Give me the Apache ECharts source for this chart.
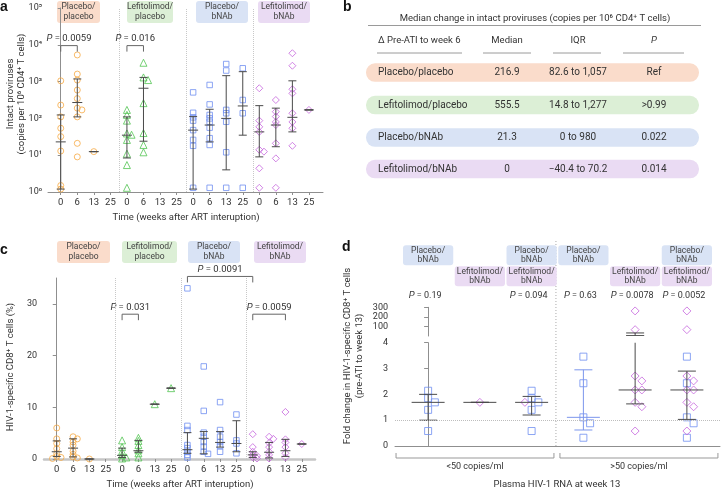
<!DOCTYPE html>
<html>
<head>
<meta charset="utf-8">
<title>Intact proviruses and HIV-1-specific CD8+ T cells</title>
<script src="https://cdn.jsdelivr.net/npm/echarts@6.0.0/dist/echarts.min.js"></script>
<style>
  html, body { margin: 0; padding: 0; background: #fff; }
  #chart { width: 722px; height: 490px; }
</style>
</head>
<body>
<div id="chart"></div>
<script>
'use strict';
// ---- data ----
const weekLabels = ['0', '6', '13', '25'];
const groupNames = ['Placebo/\nplacebo', 'Lefitolimod/\nplacebo', 'Placebo/\nbNAb', 'Lefitolimod/\nbNAb'];

// a: intact proviruses (copies per 10^6 CD4+ T cells), one list per week (0, 6, 13, 25)
const provPlaceboPlacebo = [[1050, 230, 110, 54, 32, 13, 1.5, 1.2], [5300, 1600, 1100, 590, 345, 190, 170, 110, 21, 9], [12.5], []];
const provLefiPlacebo = [[170, 125, 87, 39, 36, 26, 11, 5.4, 1.3], [3250, 1300, 1100, 260, 40, 19, 12], [], []];
const provPlaceboBnab = [[510, 142, 107, 87, 48, 26, 18, 1.3], [810, 240, 124, 100, 81, 56, 29, 19, 1.3], [3000, 2000, 170, 138, 81, 12, 1.3], [2300, 316, 138, 1.3]];
const provLefiBnab = [[660, 87, 59, 43, 14, 12.5, 4.4, 1.3], [316, 152, 112, 80, 66, 21, 8.2, 1.3], [5900, 2700, 620, 480, 138, 80, 54, 18], [170]];
// [q1, median, q3] per week
const provStatsPlaceboPlacebo = [[1.2, 23, 124], [110, 270, 1180], [12.5, 12.5, 12.5], null];
const provStatsLefiPlacebo = [[8.4, 35, 110], [24, 660, 1300], null, null];
const provStatsPlaceboBnab = [[1.2, 48, 112], [23, 66, 177], [4, 100, 1450], [35, 218, 1860]];
const provStatsLefiBnab = [[9, 43, 222], [17, 66, 190], [43, 107, 1050], [170, 170, 170]];
// [from, to, bracket level, P]
const provTests = [[0, 1, 9500, '0.0059'], [4, 5, 9500, '0.016']];

// b: table
const tableHead = ['Δ Pre-ATI to week 6', 'Median', 'IQR', 'P'];
const tableRows = ['Placebo/placebo', 'Lefitolimod/placebo', 'Placebo/bNAb', 'Lefitolimod/bNAb'];
const tableMedian = ['216.9', '555.5', '21.3', '0'];
const tableIQR = ['82.6 to 1,057', '14.8 to 1,277', '0 to 980', '\u221240.4 to 70.2'];
const tableP = ['Ref', '>0.99', '0.022', '0.014'];

// c: HIV-1-specific CD8+ T cells (%)
const cd8PlaceboPlacebo = [[6.0, 3.9, 3.0, 2.0, 1.0, 0.5, 0.3, 0.1], [4.3, 3.9, 3.3, 2.7, 1.5, 0.9, 0.4, 0.2], [0.0], []];
const cd8LefiPlacebo = [[3.6, 2.3, 1.5, 0.75, 0.3, 0.1], [4.1, 3.5, 2.7, 1.7, 1.1, 0.3], [10.6], [13.7]];
const cd8PlaceboBnab = [[33.0, 6.4, 5.6, 2.7, 2.1, 1.4, 0.8, 0.3], [17.9, 9.3, 5.1, 4.3, 3.3, 2.4, 1.4, 1.0], [11.0, 5.6, 4.3, 3.3, 2.5, 1.4], [8.6, 3.6, 3.0, 1.1]];
const cd8LefiBnab = [[4.8, 2.3, 1.4, 0.8, 0.6, 0.3, 0.1], [4.3, 3.9, 3.1, 2.3, 1.4, 0.8, 0.1], [9.1, 3.8, 3.2, 2.3, 1.1, 0.3], [2.9]];
const cd8StatsPlaceboPlacebo = [[0.5, 1.4, 3.5], [0.4, 2.1, 3.9], [0, 0, 0], null];
const cd8StatsLefiPlacebo = [[0.3, 0.7, 2.1], [1.3, 1.6, 3.6], [10.6, 10.6, 10.6], [13.7, 13.7, 13.7]];
const cd8StatsPlaceboBnab = [[1.1, 1.8, 5.1], [1.0, 4.0, 5.3], [2.3, 3.2, 5.3], [1.4, 3.0, 7.4]];
const cd8StatsLefiBnab = [[0.3, 0.8, 1.4], [0.2, 1.3, 3.2], [0.5, 1.6, 3.8], [2.9, 2.9, 2.9]];
const cd8Ticks = [0, 10, 20, 30];
const cd8Tests = [[4, 5, 28, '0.031'], [8, 12, 35.3, '0.0091'], [12, 14, 28, '0.0059']];

// d: fold change pre-ATI to week 13, six columns (<50 copies/ml: 0-2, >50 copies/ml: 3-5)
const rnaGroups = ['<50 copies/ml', '>50 copies/ml'];
const foldSquares = [[2.14, 1.85, 1.69, 1.40, 0.58], [], [2.14, 1.85, 1.69, 1.40, 0.58], [3.46, 2.43, 1.11, 0.88, 0.32], [], [3.46, 2.43, 1.11, 0.88, 0.32]];
const foldDiamonds = [[], [1.69], [1.69], [], [262, 66, 2.71, 2.52, 2.17, 2.17, 1.69, 1.52, 0.58], [262, 66, 2.71, 2.52, 2.17, 2.17, 1.69, 1.52, 0.58]];
const foldStats = [[1.0, 1.69, 2.0], [1.69, 1.69, 1.69], [1.2, 1.69, 1.92], [0.62, 1.11, 2.95], [1.63, 2.17, 32], [1.03, 2.17, 2.9]];
const foldP = ['0.19', '', '0.094', '0.63', '0.0078', '0.0052'];

// ---- styles ----
const FONT = 'Roboto, "Noto Sans", sans-serif';
const TXT = '#333';
const AX = '#8f8f8f';
const BAR = '#4a4a4a';
const COLORS = ['#f6aa45', '#52c452', '#6f8ff0', '#c565dd'];
const BOXES = ['#fadccb', '#dcefd6', '#d9e3f5', '#eadbf3'];
const SYMBOLS = ['circle', 'triangle', 'rect', 'diamond'];
const SIZES = [6, 7, 5.5, 7];
const dBarColors = [BAR, BAR, BAR, '#7c96ec', BAR, BAR];
const sup = ['\u2070', '\u00b9', '\u00b2', '\u00b3', '\u2074', '\u2075'];

const openItem = i => ({color: 'rgba(255,255,255,0)', borderColor: COLORS[i], borderWidth: 1});
const txtStyle = (extra) => Object.assign({
    fill: TXT, fontSize: 9.5, fontFamily: FONT,
    align: 'center', verticalAlign: 'middle', textAlign: 'center', textVerticalAlign: 'middle'
}, extra);
const pRich = {i: {fontStyle: 'italic', fontSize: 9.5, fontFamily: FONT, fill: TXT}};

//简单蜂群排布，避免点重叠
function swarm(values, center, toPx, gap, step) {
    const placed = [];
    return values.map(v => {
        const y = toPx(v);
        let dx = 0;
        for (let i = 0; i < 9; i++) {
            dx = (i % 2 ? 1 : -1) * Math.ceil(i / 2) * step;
            if (!placed.some(p => Math.abs(p.y - y) < gap && Math.abs(p.dx - dx) < step * 0.9)) break;
        }
        placed.push({y, dx});
        return [center + dx, v];
    });
}

// median + IQR bars
function errorBars(capW, medW, colorOf) {
    return function (params, api) {
        const x = api.value(0);
        const lo = api.coord([x, api.value(1)]);
        const md = api.coord([x, api.value(2)]);
        const hi = api.coord([x, api.value(3)]);
        const st = {stroke: colorOf(params.dataIndex), lineWidth: 1};
        const h = (p, w) => ({type: 'line', shape: {x1: p[0] - w / 2, y1: p[1], x2: p[0] + w / 2, y2: p[1]}, style: st});
        return {type: 'group', children: [
            {type: 'line', shape: {x1: lo[0], y1: lo[1], x2: hi[0], y2: hi[1]}, style: st},
            h(lo, capW), h(hi, capW), h(md, medW)
        ]};
    };
}

function bracketItem(tests) {
    return function (params, api) {
        const t = tests[params.dataIndex];
        const a = api.coord([t[0], t[2]]);
        const b = api.coord([t[1], t[2]]);
        return {type: 'group', children: [
            {type: 'polyline', shape: {points: [[a[0], a[1] + 6], a, b, [b[0], b[1] + 6]]},
                style: {stroke: '#666', lineWidth: 1, fill: null}},
            {type: 'text', style: txtStyle({text: '{i|P} = ' + t[3], rich: pRich, x: (a[0] + b[0]) / 2, y: a[1] - 2,
                verticalAlign: 'bottom', textVerticalAlign: 'bottom'})}
        ]};
    };
}

function timePanel(gi, groups, stats, tests, toPx, gap, step, seps) {
    const out = [];
    groups.forEach((weeks, g) => {
        const pts = [];
        weeks.forEach((vals, w) => pts.push(...swarm(vals, g * 4 + w, toPx, gap, step)));
        out.push({type: 'scatter', xAxisIndex: gi, yAxisIndex: gi, symbol: SYMBOLS[g], symbolSize: SIZES[g],
            itemStyle: openItem(g), data: pts, z: 2, silent: true});
    });
    const bars = [];
    stats.forEach((weeks, g) => weeks.forEach((s, w) => { if (s) bars.push([g * 4 + w, s[0], s[1], s[2]]); }));
    out.push({type: 'custom', xAxisIndex: gi, yAxisIndex: gi, renderItem: errorBars(8, 10, () => BAR), data: bars, z: 3, silent: true});
    out.push({type: 'custom', xAxisIndex: gi, yAxisIndex: gi, renderItem: bracketItem(tests),
        data: tests.map(t => [t[0], t[2]]), z: 3, silent: true});
    out[0].markLine = {
        silent: true, symbol: 'none', label: {show: false},
        lineStyle: {type: 'dotted', color: '#c8c8c8', width: 1},
        data: seps.map(x => ({xAxis: x}))
    };
    return out;
}

const idx16 = weekLabels.concat(weekLabels, weekLabels, weekLabels).map((_, i) => i);
const timeAxisX = (gi, min, max, line) => ({
    gridIndex: gi, type: 'value', min, max,
    axisLine: {show: true, lineStyle: line}, splitLine: {show: false},
    axisTick: {show: true, length: 3, customValues: idx16, lineStyle: {color: AX}},
    axisLabel: {customValues: idx16, formatter: v => weekLabels[Math.round(v) % 4], color: TXT, fontSize: 9.5, fontFamily: FONT, margin: 6}
});

// ---- series ----
const series = [];
series.push(...timePanel(0,
    [provPlaceboPlacebo, provLefiPlacebo, provPlaceboBnab, provLefiBnab],
    [provStatsPlaceboPlacebo, provStatsLefiPlacebo, provStatsPlaceboBnab, provStatsLefiBnab],
    provTests, v => Math.log10(v) * 36.8, 3, 0.28, [3.55, 7.6, 11.65]));
series.push(...timePanel(1,
    [cd8PlaceboPlacebo, cd8LefiPlacebo, cd8PlaceboBnab, cd8LefiBnab],
    [cd8StatsPlaceboPlacebo, cd8StatsLefiPlacebo, cd8StatsPlaceboBnab, cd8StatsLefiBnab],
    cd8Tests, v => v * 5.17, 2.5, 0.26, [3.6, 7.65, 11.63]));

// panel d: points split into lower (0-4) and upper (broken) part of the axis
const FOLD_BREAK = 4;
const dLowSq = [], dLowDi = [], dHighDi = [];
foldSquares.forEach((sq, k) => {
    const vals = sq.concat(foldDiamonds[k]);
    const pos = swarm(vals, k, v => v <= FOLD_BREAK ? v * 25.8 : 200 + v * 0.1, 6, 0.13);
    pos.forEach((p, i) => {
        if (i < sq.length) dLowSq.push(p);
        else if (p[1] <= FOLD_BREAK) dLowDi.push(p);
        else dHighDi.push(p);
    });
});
const foldBars = foldStats.map((s, k) => [k, s[0], s[1], s[2]]);
series.push(
    {type: 'scatter', xAxisIndex: 2, yAxisIndex: 2, symbol: 'rect', symbolSize: 7, itemStyle: openItem(2), data: dLowSq, z: 2, silent: true,
        markLine: {silent: true, symbol: 'none', label: {show: false}, lineStyle: {type: 'dotted', color: '#bdbdbd', width: 1}, data: [{yAxis: 1}]}},
    {type: 'scatter', xAxisIndex: 2, yAxisIndex: 2, symbol: 'diamond', symbolSize: 8, itemStyle: openItem(3), data: dLowDi, z: 2, silent: true},
    {type: 'scatter', xAxisIndex: 3, yAxisIndex: 3, symbol: 'diamond', symbolSize: 8, itemStyle: openItem(3), data: dHighDi, z: 2, silent: true},
    {type: 'custom', xAxisIndex: 2, yAxisIndex: 2, clip: true, renderItem: errorBars(18, 33, i => dBarColors[i]), data: foldBars, z: 3, silent: true},
    {type: 'custom', xAxisIndex: 3, yAxisIndex: 3, clip: true, renderItem: errorBars(18, 18, i => dBarColors[i]),
        data: foldBars.filter(b => b[3] > FOLD_BREAK), z: 3, silent: true},
    // group boxes and P values above the columns
    {type: 'custom', xAxisIndex: 3, yAxisIndex: 3, silent: true, z: 4,
        data: foldP.map((_, k) => [k, 300]),
        renderItem: (params, api) => {
            const k = api.value(0);
            const top = api.coord([k, 300]);
            const w = api.size([1, 0])[0] - 1.5;
            const kids = [];
            const boxAt = (y, h, fill, text) => {
                kids.push({type: 'rect', shape: {x: top[0] - w / 2, y, width: w, height: h, r: 3}, style: {fill}});
                kids.push({type: 'text', style: txtStyle({text, x: top[0], y: y + h / 2, fontSize: 8.5, lineHeight: 9.5, fill: '#444'})});
            };
            if (foldSquares[k].length) boxAt(top[1] - 62, 20, BOXES[2], groupNames[2]);
            if (foldDiamonds[k].length) boxAt(top[1] - 41, 20, BOXES[3], groupNames[3]);
            if (foldP[k]) kids.push({type: 'text', style: txtStyle({text: '{i|P} = ' + foldP[k], rich: pRich, x: top[0] - 3, y: top[1] - 12, fontSize: 9})});
            return {type: 'group', children: kids};
        }},
    // separator and RNA group brackets under the axis
    {type: 'custom', xAxisIndex: 2, yAxisIndex: 2, silent: true, z: 1,
        data: [[2.47, 0]],
        renderItem: (params, api) => {
            const sep = api.value(0);
            const base = api.coord([sep, 0]);
            const left = api.coord([-0.62, 0])[0], right = api.coord([5.6, 0])[0];
            const kids = [{type: 'line', shape: {x1: base[0], y1: base[1], x2: base[0], y2: 241},
                style: {stroke: '#aaa', lineWidth: 1, lineDash: [1, 2]}}];
            const y = base[1] + 12;
            [[left, base[0] - 2], [base[0] + 4, right]].forEach((r, i) => {
                kids.push({type: 'polyline', shape: {points: [[r[0], y - 5], [r[0], y], [r[1], y], [r[1], y - 5]]},
                    style: {stroke: '#999', lineWidth: 1, fill: null}});
                kids.push({type: 'text', style: txtStyle({text: rnaGroups[i], x: (r[0] + r[1]) / 2, y: y + 9, fontSize: 9})});
            });
            return {type: 'group', children: kids};
        }}
);

// ---- static layout: labels, boxes, table ----
const graphics = [];
const gText = (x, y, text, extra) => graphics.push({type: 'text', x, y, silent: true, style: txtStyle(Object.assign({text}, extra))});
const gRect = (x, y, w, h, fill, r) => graphics.push({type: 'rect', silent: true, shape: {x, y, width: w, height: h, r}, style: {fill}});
const gLine = (x1, x2, y, stroke) => graphics.push({type: 'line', silent: true, shape: {x1, y1: y, x2, y2: y}, style: {stroke, lineWidth: 1}});

[['a', 0, 7], ['b', 343, 7], ['c', 0, 250], ['d', 342, 247]].forEach(l =>
    gText(l[1], l[2], l[0], {fontSize: 14, fontWeight: 'bold', fill: '#111', fontFamily: 'Liberation Sans, Arial, sans-serif', align: 'left', textAlign: 'left'}));

const boxesA = [[57, 43], [127, 46], [196, 52], [258, 52]];
const boxesC = [[57, 53], [122, 55], [188, 52], [254, 52]];
[[boxesA, 1], [boxesC, 241]].forEach(([list, top]) => list.forEach((b, g) => {
    gRect(b[0], top, b[1], 22, BOXES[g], 3);
    gText(b[0] + b[1] / 2, top + 11, groupNames[g], {fontSize: 8.5, lineHeight: 10, fill: '#444'});
}));

// axis titles
gText(16.5, 94, 'Intact proviruses\n(copies per 10\u2076 CD4\u207a T cells)', {fontSize: 9.5, lineHeight: 11, rotation: Math.PI / 2});
graphics[graphics.length - 1].rotation = Math.PI / 2;
gText(186, 218, 'Time (weeks after ART interuption)', {fontSize: 9.5});
gText(11, 367, 'HIV-1-specific CD8\u207a T cells (%)', {fontSize: 9.5});
graphics[graphics.length - 1].rotation = Math.PI / 2;
gText(180, 485, 'Time (weeks after ART interuption)', {fontSize: 9.5});
gText(353.5, 356, 'Fold change in HIV-1-specific CD8\u207a T cells\n(pre-ATI to week 13)', {fontSize: 9.5, lineHeight: 12});
graphics[graphics.length - 1].rotation = Math.PI / 2;
gText(557, 485, 'Plasma HIV-1 RNA at week 13', {fontSize: 9.5});

// table (b)
gText(535, 19, 'Median change in intact proviruses (copies per 10\u2076 CD4\u207a T cells)', {fontSize: 9.5});
gLine(368, 701, 25.5, '#9a9a9a');
const colX = [378, 507, 578, 654];
const underline = [[377, 462], [483, 531], [553, 601], [623, 684]];
tableHead.forEach((h, i) => {
    if (i === 0) gText(colX[i], 41, h, {fontSize: 9.5, align: 'left', textAlign: 'left'});
    else gText(colX[i], 41, h, {fontSize: 9.5, fontStyle: i === 3 ? 'italic' : 'normal'});
    gLine(underline[i][0], underline[i][1], 53, '#9a9a9a');
});
const rowY = [72.5, 105, 137.5, 169];
tableRows.forEach((r, i) => {
    gRect(366, rowY[i] - 9.2, 333, 18.5, BOXES[i], 9);
    gText(colX[0], rowY[i], r, {fontSize: 10, align: 'left', textAlign: 'left'});
    gText(colX[1], rowY[i], tableMedian[i], {fontSize: 10});
    gText(colX[2], rowY[i], tableIQR[i], {fontSize: 10});
    gText(colX[3], rowY[i], tableP[i], {fontSize: 10});
});

const axisText = {color: TXT, fontSize: 9, fontFamily: FONT};
const option = {
    animation: false,
    textStyle: {fontFamily: FONT},
    grid: [
        {left: 48, top: 8, width: 275, height: 184},
        {left: 44, top: 278, width: 271, height: 181},
        {left: 395, top: 342.7, width: 325, height: 103.3},
        {left: 395, top: 307.3, width: 325, height: 28.7}
    ],
    xAxis: [
        timeAxisX(0, -0.77, 15.85, {color: AX, width: 1}),
        timeAxisX(1, -0.78, 15.81, {color: '#c6c6c6', width: 2.5}),
        {gridIndex: 2, type: 'value', min: -0.64, max: 5.64, axisLine: {show: true, lineStyle: {color: AX}},
            axisTick: {show: false}, axisLabel: {show: false}, splitLine: {show: false}},
        {gridIndex: 3, type: 'value', min: -0.64, max: 5.64, show: false, splitLine: {show: false}}
    ],
    yAxis: [
        {gridIndex: 0, type: 'log', logBase: 10, min: 1, max: 100000,
            axisLine: {show: true, lineStyle: {color: AX}}, splitLine: {show: false}, minorTick: {show: false},
            axisTick: {show: true, length: 3, lineStyle: {color: AX}},
            axisLabel: Object.assign({formatter: v => '10' + sup[Math.round(Math.log10(v))], margin: 6}, axisText)},
        {gridIndex: 1, type: 'value', min: 0, max: 35,
            axisLine: {show: true, lineStyle: {color: AX}}, splitLine: {show: false},
            axisTick: {show: true, length: 4, customValues: cd8Ticks, lineStyle: {color: AX}},
            axisLabel: Object.assign({customValues: cd8Ticks, margin: 7, fontSize: 9.5}, axisText)},
        {gridIndex: 2, type: 'value', min: 0, max: FOLD_BREAK, interval: 1,
            axisLine: {show: true, lineStyle: {color: AX}}, splitLine: {show: false},
            axisTick: {show: true, length: 4, lineStyle: {color: AX}},
            axisLabel: Object.assign({margin: 7}, axisText)},
        {gridIndex: 3, type: 'value', min: 0, max: 300, interval: 100,
            axisLine: {show: true, lineStyle: {color: AX}}, splitLine: {show: false},
            axisTick: {show: true, length: 4, lineStyle: {color: AX}},
            axisLabel: Object.assign({margin: 7, showMinLabel: false, formatter: v => v === 0 ? '' : String(v)}, axisText)}
    ],
    graphic: {elements: graphics},
    series
};

const chart = echarts.init(document.getElementById('chart'));
chart.setOption(option);
</script>
</body>
</html>
